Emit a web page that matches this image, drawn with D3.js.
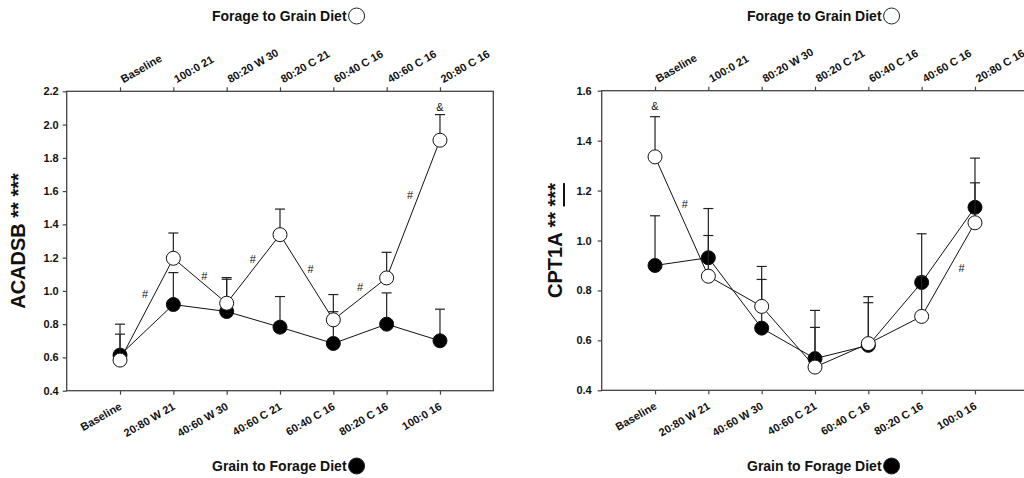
<!DOCTYPE html>
<html>
<head>
<meta charset="utf-8">
<script src="https://cdn.jsdelivr.net/npm/d3@7"></script>
<style>
    body { margin: 0; background: #fff; }
    svg { display: block; font-family: 'Liberation Sans', Arial, sans-serif; }
    .tick text { font-size: 11px; font-weight: bold; fill: #111; }
    .tick line { stroke: #444; stroke-width: 1.2; }
</style>
</head>
<body>
<svg id="chart" width="1024" height="478"></svg>
<script>
(function () {
    'use strict';

    // category labels, same for both panels
    const topLabels = ['Baseline', '100:0 21', '80:20 W 30', '80:20 C 21', '60:40 C 16', '40:60 C 16', '20:80 C 16'];
    const bottomLabels = ['Baseline', '20:80 W 21', '40:60 W 30', '40:60 C 21', '60:40 C 16', '80:20 C 16', '100:0 16'];

    // ACADSB
    const acadsbTicks = [0.4, 0.6, 0.8, 1.0, 1.2, 1.4, 1.6, 1.8, 2.0, 2.2];
    const acadsbForageToGrain = [0.584, 1.196, 0.926, 1.338, 0.826, 1.078, 1.906];
    const acadsbForageToGrainSem = [0.156, 0.152, 0.154, 0.154, 0.152, 0.154, 0.154];
    const acadsbGrainToForage = [0.614, 0.918, 0.876, 0.782, 0.684, 0.800, 0.700];
    const acadsbGrainToForageSem = [0.186, 0.192, 0.194, 0.184, 0.191, 0.188, 0.190];
    const acadsbMarks = [
        { x: 1.47, y: 0.98, t: '#' }, { x: 2.58, y: 1.088, t: '#' }, { x: 3.49, y: 1.193, t: '#' },
        { x: 4.575, y: 1.131, t: '#' }, { x: 5.5, y: 1.021, t: '#' }, { x: 6.44, y: 1.578, t: '#' },
        { x: 7, y: 2.104, t: '&' }
    ];

    // CPT1A
    const cpt1aTicks = [0.4, 0.6, 0.8, 1.0, 1.2, 1.4, 1.6];
    const cpt1aForageToGrain = [1.335, 0.857, 0.736, 0.493, 0.587, 0.696, 1.071];
    const cpt1aForageToGrainSem = [0.161, 0.163, 0.160, 0.159, 0.164, 0.160, 0.160];
    const cpt1aGrainToForage = [0.900, 0.931, 0.649, 0.527, 0.580, 0.832, 1.133];
    const cpt1aGrainToForageSem = [0.199, 0.197, 0.195, 0.193, 0.195, 0.195, 0.197];
    const cpt1aMarks = [
        { x: 1, y: 1.537, t: '&' }, { x: 1.56, y: 1.144, t: '#' }, { x: 6.75, y: 0.891, t: '#' }
    ];

    const svg = d3.select('#chart');

    function drawSeries(g, x, y, means, sems, fill) {
        const pts = means.map((m, i) => ({ i: i + 1, m: m, s: sems[i] }));

        g.append('path')
            .datum(pts)
            .attr('d', d3.line().x(d => x(d.i)).y(d => y(d.m)))
            .attr('fill', 'none')
            .attr('stroke', '#111')
            .attr('stroke-width', 1);

        const bars = g.selectAll(null).data(pts).enter().append('g');
        bars.append('line')
            .attr('x1', d => x(d.i)).attr('x2', d => x(d.i))
            .attr('y1', d => y(d.m)).attr('y2', d => y(d.m + d.s))
            .attr('stroke', '#222').attr('stroke-width', 1.2);
        bars.append('line')
            .attr('x1', d => x(d.i) - 5).attr('x2', d => x(d.i) + 5)
            .attr('y1', d => y(d.m + d.s)).attr('y2', d => y(d.m + d.s))
            .attr('stroke', '#222').attr('stroke-width', 1.2);

        g.selectAll(null).data(pts).enter().append('circle')
            .attr('cx', d => x(d.i))
            .attr('cy', d => y(d.m))
            .attr('r', 7)
            .attr('fill', fill)
            .attr('stroke', '#111')
            .attr('stroke-width', 1);
    }

    function legendTitle(cx, baseline, label, fill) {
        const t = svg.append('text')
            .attr('x', cx - 68)
            .attr('y', baseline)
            .style('font-size', '14px')
            .style('font-weight', 'bold')
            .attr('fill', '#111')
            .text(label);
        const w = t.node().getComputedTextLength();
        svg.append('circle')
            .attr('cx', cx - 68 + w + 10)
            .attr('cy', baseline - 5)
            .attr('r', 8)
            .attr('fill', fill)
            .attr('stroke', '#222')
            .attr('stroke-width', 1);
    }

    function drawPanel(cfg) {
        const g = svg.append('g');
        const x = d3.scaleLinear().domain([0, 8]).range([cfg.left, cfg.left + cfg.width]);
        const y = d3.scaleLinear()
            .domain([cfg.ticks[0], cfg.ticks[cfg.ticks.length - 1]])
            .range([cfg.top + cfg.height, cfg.top]);

        g.append('rect')
            .attr('x', cfg.left).attr('y', cfg.top)
            .attr('width', cfg.width).attr('height', cfg.height)
            .attr('fill', 'none').attr('stroke', '#444').attr('stroke-width', 1.3);

        const yAxis = g.append('g')
            .attr('transform', `translate(${cfg.left},0)`)
            .call(d3.axisLeft(y).tickValues(cfg.ticks).tickFormat(d3.format('.1f')).tickSize(4).tickPadding(cfg.yPad));
        yAxis.select('.domain').remove();

        const bottom = g.append('g')
            .attr('transform', `translate(0,${cfg.top + cfg.height})`)
            .call(d3.axisBottom(x).tickValues(d3.range(1, 8)).tickSize(4).tickFormat(i => bottomLabels[i - 1]));
        bottom.select('.domain').remove();
        bottom.selectAll('text')
            .attr('x', 0).attr('y', 0).attr('dy', 0)
            .attr('transform', 'translate(2,18) rotate(-30)')
            .style('text-anchor', 'end');

        const top = g.append('g')
            .attr('transform', `translate(0,${cfg.top})`)
            .call(d3.axisTop(x).tickValues(d3.range(1, 8)).tickSize(4).tickFormat(i => topLabels[i - 1]));
        top.select('.domain').remove();
        top.selectAll('text')
            .attr('x', 0).attr('y', 0).attr('dy', 0)
            .attr('transform', 'translate(3,-8) rotate(-30)')
            .style('text-anchor', 'start');

        // grain to forage first, forage to grain on top
        drawSeries(g, x, y, cfg.grainToForage, cfg.grainToForageSem, '#000');
        drawSeries(g, x, y, cfg.forageToGrain, cfg.forageToGrainSem, '#fff');

        g.selectAll(null).data(cfg.marks).enter().append('text')
            .attr('x', d => x(d.x))
            .attr('y', d => y(d.y))
            .attr('dy', '0.35em')
            .attr('text-anchor', 'middle')
            .style('font-size', '11px')
            .attr('fill', '#111')
            .text(d => d.t);

        const title = g.append('text')
            .attr('transform', `translate(${cfg.titleX},${cfg.top + cfg.height / 2}) rotate(-90)`)
            .attr('text-anchor', 'middle')
            .style('font-size', '20px')
            .style('font-weight', 'bold')
            .attr('fill', '#111');
        title.append('tspan').text(cfg.gene + ' ** ');
        const stars = title.append('tspan').text('***');
        if (cfg.underline) {
            stars.style('text-decoration', 'underline');
        }

        const mid = cfg.left + cfg.width / 2;
        legendTitle(mid, 21, 'Forage to Grain Diet', '#fff');
        legendTitle(mid, 471, 'Grain to Forage Diet', '#000');
    }

    drawPanel({
        left: 66.7, top: 91.3, width: 426.6, height: 299.4, yPad: 4, titleX: 25,
        gene: 'ACADSB', underline: false, ticks: acadsbTicks,
        forageToGrain: acadsbForageToGrain, forageToGrainSem: acadsbForageToGrainSem,
        grainToForage: acadsbGrainToForage, grainToForageSem: acadsbGrainToForageSem,
        marks: acadsbMarks
    });

    drawPanel({
        left: 601.7, top: 90.7, width: 426.6, height: 299.6, yPad: 6, titleX: 562,
        gene: 'CPT1A', underline: true, ticks: cpt1aTicks,
        forageToGrain: cpt1aForageToGrain, forageToGrainSem: cpt1aForageToGrainSem,
        grainToForage: cpt1aGrainToForage, grainToForageSem: cpt1aGrainToForageSem,
        marks: cpt1aMarks
    });
})();
</script>
</body>
</html>
